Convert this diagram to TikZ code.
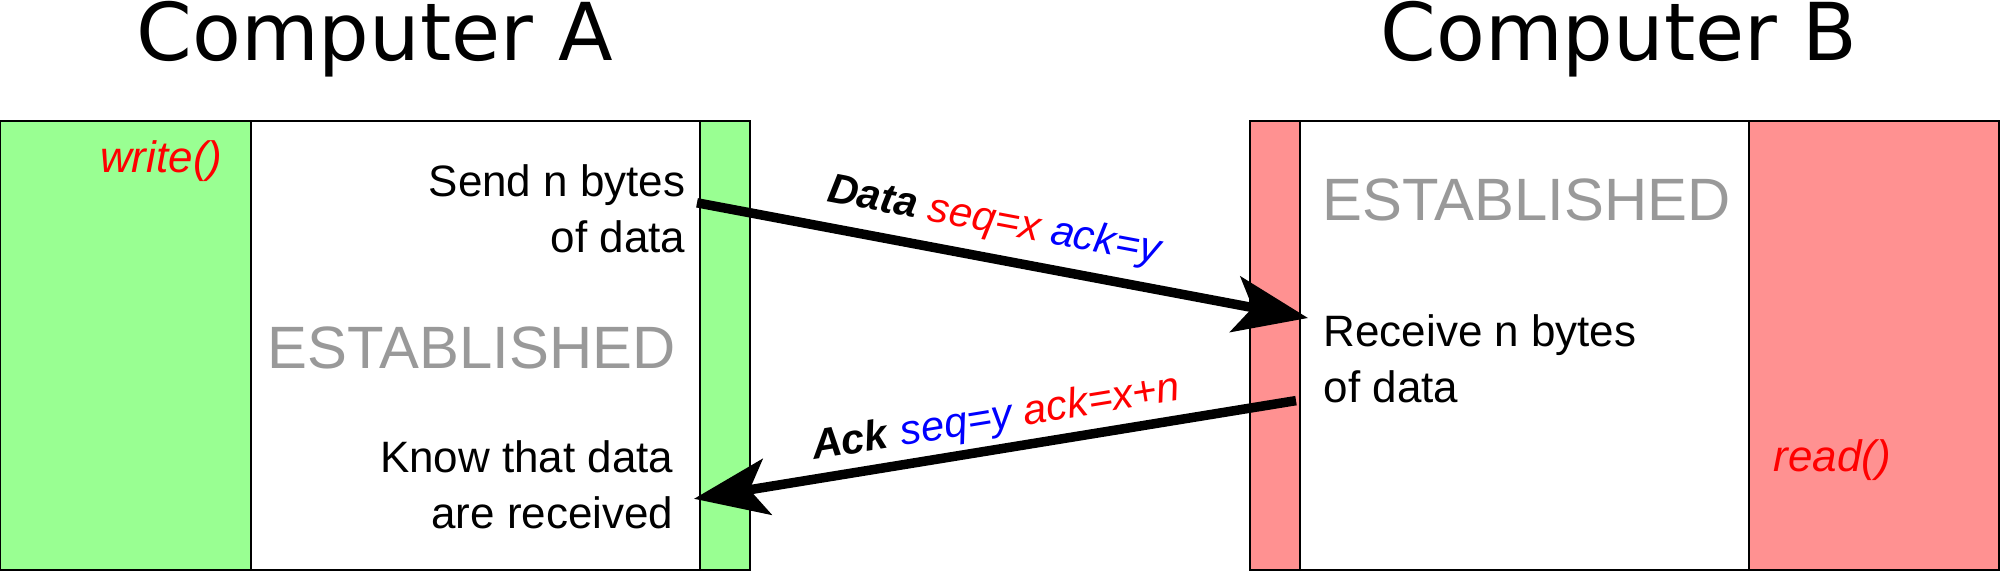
\documentclass[tikz,border=0pt]{standalone}
\usepackage{fontspec}
\setmainfont{Liberation Sans}
\newfontfamily\titlefont{DejaVu Sans}
\usepackage{xcolor}
\usetikzlibrary{arrows.meta, calc}
\definecolor{sendgreen}{RGB}{153,255,146}
\definecolor{recvred}{RGB}{255,145,145}
\definecolor{stategray}{RGB}{153,153,153}

\begin{document}
\begin{tikzpicture}[
  x=0.01cm, y=-0.01cm,
  panel/.style={draw=black, line width=0.6pt},
  title/.style={font=\titlefont\fontsize{22.7pt}{27pt}\selectfont, inner sep=0pt, anchor=base},
  txt/.style={font=\fontsize{12.5pt}{15.9pt}\selectfont, inner sep=0pt},
  state/.style={font=\fontsize{17pt}{20pt}\selectfont, text=stategray, inner sep=0pt},
  call/.style={txt, text=red, font=\fontsize{12.5pt}{15.9pt}\selectfont\itshape},
  lbl/.style={txt, sloped, font=\fontsize{11.9pt}{14pt}\selectfont},
  arr/.style={-{Stealth[length=21pt, width=16pt, inset=5pt]}, line width=2.7pt},
]
\useasboundingbox (0,0) rectangle (2000,572);
\filldraw[panel, fill=sendgreen] (0,121) rectangle (750,570);
\filldraw[panel, fill=white] (251,121) rectangle (700,570);
\filldraw[panel, fill=recvred] (1250,121) rectangle (1999,570);
\filldraw[panel, fill=white] (1300,121) rectangle (1749,570);

\node[title] (ta) at (375,60) {Computer A};
\node[title] (tb) at (1619,60) {Computer B};
\node[call, anchor=base east] (wr) at (223,172) {write()};
\node[call, anchor=base west] (rd) at (1773,471) {read()};
\node[state, anchor=base east] (sa) at (676,368) {ESTABLISHED};
\node[state, anchor=base west] (sb) at (1322,220) {ESTABLISHED};
\node[txt, align=right, anchor=north east] (send) at (686,164) {Send n bytes\\of data};
\node[txt, align=right, anchor=north east] (know) at (674,440) {Know that data\\are received};
\node[txt, align=left, anchor=north west] (recv) at (1323,314) {Receive n bytes\\of data};

\draw[arr] ($(send.east)+(11,-6)$) -- node[lbl, pos=0.475, above=3.4pt]
  {\textbf{\itshape Data} \textcolor{red}{\itshape seq=x} \textcolor{blue}{\itshape ack=y}}
  ($(recv.north west)+(-15,4)$);
\draw[arr] ($(recv.south west)+(-27,-3)$) -- node[lbl, pos=0.49, above=1.6pt]
  {\textbf{\itshape Ack} \textcolor{blue}{\itshape seq=y} \textcolor{red}{\itshape ack=x+n}}
  ($(know.east)+(20,14)$);
\end{tikzpicture}
\end{document}
